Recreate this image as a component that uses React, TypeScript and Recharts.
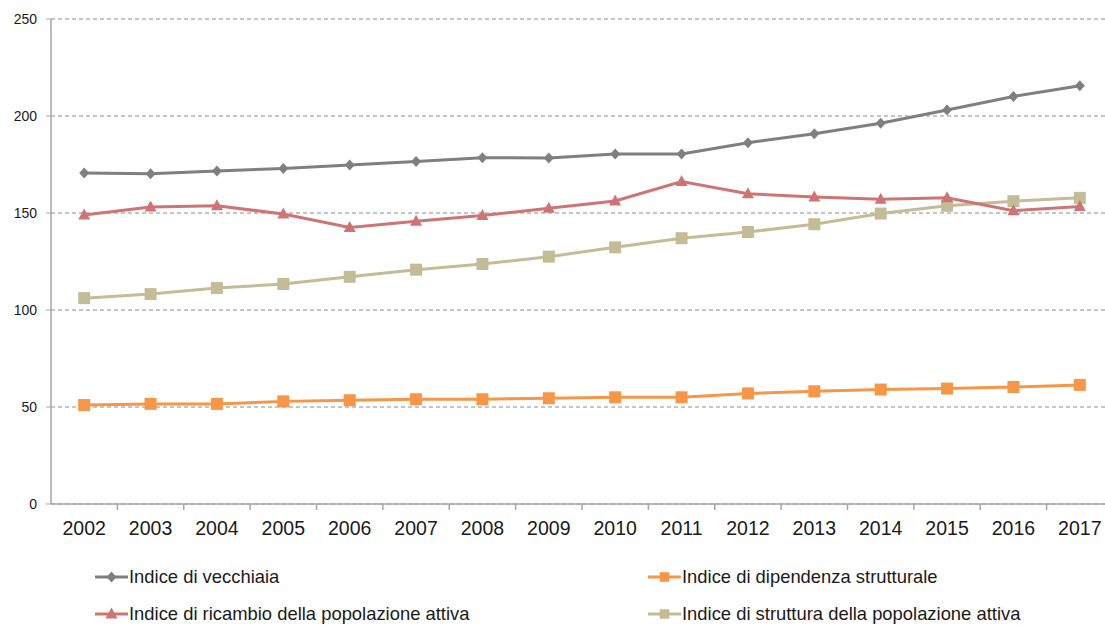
import React from "react";
import { CartesianGrid, Line, LineChart, XAxis, YAxis } from "recharts";

const years = ["2002", "2003", "2004", "2005", "2006", "2007", "2008", "2009", "2010", "2011", "2012", "2013", "2014", "2015", "2016", "2017"];
const vecchiaia = [170.6, 170.2, 171.7, 173.0, 174.8, 176.5, 178.5, 178.4, 180.4, 180.4, 186.2, 190.9, 196.3, 203.1, 210.1, 215.6];
const dipendenza = [51.0, 51.6, 51.6, 52.9, 53.5, 54.0, 54.0, 54.5, 55.0, 55.0, 57.0, 58.1, 59.0, 59.5, 60.3, 61.4];
const ricambio = [149.0, 153.1, 153.7, 149.5, 142.5, 145.8, 148.7, 152.5, 156.2, 166.2, 159.9, 158.3, 157.1, 157.8, 151.2, 153.3];
const struttura = [106.1, 108.2, 111.3, 113.4, 117.1, 120.8, 123.7, 127.5, 132.3, 137.0, 140.2, 144.2, 149.7, 153.7, 156.1, 157.8];
const yTicks = [0, 50, 100, 150, 200, 250];

const GRAY = "#7f7f7f";
const ORANGE = "#f79646";
const RED = "#cf7474";
const TAN = "#c4bc96";
const AXIS = "#a6a6a6";

const data = years.map((y, i) => ({
  idx: i,
  year: y,
  vecchiaia: vecchiaia[i],
  dipendenza: dipendenza[i],
  ricambio: ricambio[i],
  struttura: struttura[i],
}));

// label ticks at each year, tick marks on the boundaries between years
const xTicks = years.flatMap((_, i) => (i === 0 ? [0] : [i - 0.5, i]));

type Shape = "diamond" | "square" | "triangle";

function markerPath(shape: Shape, cx: number, cy: number) {
  if (shape === "diamond") return `M${cx},${cy - 5.5}L${cx + 5},${cy}L${cx},${cy + 5.5}L${cx - 5},${cy}Z`;
  if (shape === "triangle") return `M${cx},${cy - 6.5}L${cx + 6},${cy + 4.5}L${cx - 6},${cy + 4.5}Z`;
  return `M${cx - 6},${cy - 6}h12v12h-12Z`;
}

const makeDot = (shape: Shape, color: string) => (p: any) => (
  <path key={`${shape}-${color}-${p.index}`} d={markerPath(shape, p.cx, p.cy)} fill={color} stroke="none" />
);

function YearTick(props: any) {
  const { x, y, payload } = props;
  const v = payload.value as number;
  if (!Number.isInteger(v)) {
    return <line x1={x} y1={y} x2={x} y2={y + 6} stroke={AXIS} strokeWidth={1.5} />;
  }
  return (
    <text x={x} y={y + 17} dy="0.71em" textAnchor="middle" fill="#1a1a1a" fontSize={19.5}>
      {years[v]}
    </text>
  );
}

function LegendItem({ label, color, shape }: { label: string; color: string; shape: Shape }) {
  return (
    <div style={{ display: "flex", alignItems: "center" }}>
      <svg width={33} height={14} style={{ marginRight: 1 }}>
        <line x1={0} y1={7} x2={33} y2={7} stroke={color} strokeWidth={3} />
        <path d={markerPath(shape, 16.5, 7)} fill={color} transform={shape === "square" ? "translate(16.5 7) scale(0.8) translate(-16.5 -7)" : undefined} />
      </svg>
      <span>{label}</span>
    </div>
  );
}

export default function App() {
  return (
    <div style={{ position: "absolute", left: 0, top: 0, width: 1105, height: 625, overflow: "hidden", background: "#fff", fontFamily: "'Liberation Sans', Arial, sans-serif" }}>
      <LineChart width={1113} height={625} data={data} margin={{ top: 19, right: 0, bottom: 91, left: 0 }}>
        <CartesianGrid horizontal vertical={false} stroke="#8c8c8c" strokeDasharray="4 3" />
        <XAxis
          type="number"
          dataKey="idx"
          domain={[-0.5, 15.5]}
          ticks={xTicks}
          interval={0}
          tick={<YearTick />}
          tickLine={false}
          tickSize={0}
          tickMargin={0}
          axisLine={{ stroke: AXIS, strokeWidth: 1.5 }}
          height={30}
          allowDataOverflow
        />
        <YAxis
          domain={[0, 250]}
          ticks={yTicks}
          tick={{ fill: "#1a1a1a", fontSize: 14 }}
          tickLine={{ stroke: AXIS }}
          tickSize={5}
          tickMargin={9}
          axisLine={{ stroke: AXIS, strokeWidth: 1.5 }}
          width={51}
        />
        <Line dataKey="dipendenza" stroke={ORANGE} strokeWidth={3} dot={makeDot("square", ORANGE)} activeDot={false} isAnimationActive={false} />
        <Line dataKey="struttura" stroke={TAN} strokeWidth={3} dot={makeDot("square", TAN)} activeDot={false} isAnimationActive={false} />
        <Line dataKey="ricambio" stroke={RED} strokeWidth={3} dot={makeDot("triangle", RED)} activeDot={false} isAnimationActive={false} />
        <Line dataKey="vecchiaia" stroke={GRAY} strokeWidth={3} dot={makeDot("diamond", GRAY)} activeDot={false} isAnimationActive={false} />
      </LineChart>
      <div
        style={{
          position: "absolute",
          left: 95,
          top: 564,
          display: "grid",
          gridTemplateColumns: "553px 420px",
          rowGap: 12,
          fontSize: 18.4,
          color: "#1a1a1a",
          lineHeight: "25px",
        }}
      >
        <LegendItem label="Indice di vecchiaia" color={GRAY} shape="diamond" />
        <LegendItem label="Indice di dipendenza strutturale" color={ORANGE} shape="square" />
        <LegendItem label="Indice di ricambio della popolazione attiva" color={RED} shape="triangle" />
        <LegendItem label="Indice di struttura della popolazione attiva" color={TAN} shape="square" />
      </div>
    </div>
  );
}
